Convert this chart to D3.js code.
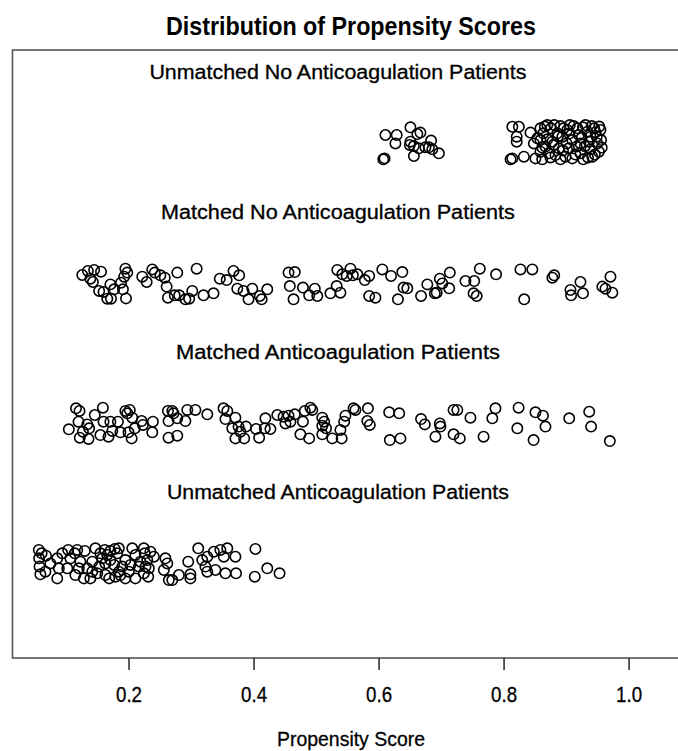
<!DOCTYPE html>
<html><head><meta charset="utf-8">
<script src="https://cdn.jsdelivr.net/npm/d3@7"></script>
<style>html,body{margin:0;padding:0;background:#fff;}svg{display:block;}</style>
</head><body>
<script>
// ---- DATA: [propensity score, vertical jitter] ----
const rowLabels = ["Unmatched No Anticoagulation Patients","Matched No Anticoagulation Patients","Matched Anticoagulation Patients","Unmatched Anticoagulation Patients"];
const rowValues = [4, 3, 2, 1];
const xTicks = [0.2, 0.4, 0.6, 0.8, 1.0];
const xTickLabels = ["0.2","0.4","0.6","0.8","1.0"];
const titleText = "Distribution of Propensity Scores";
const xAxisTitle = "Propensity Score";

const unmatchedNoAnticoag = [[0.6075,-0.124],[0.6096,-0.117],[0.611,0.05],[0.629,0.05],[0.627,-0.010],[0.651,0.105],[0.667,0.067],[0.662,0.057],[0.651,0.002],[0.650,-0.021],[0.6565,-0.029],[0.6645,-0.045],[0.675,-0.038],[0.684,0.010],[0.6805,-0.038],[0.686,-0.052],[0.6965,-0.081],[0.6565,-0.1],
[0.814,0.109],[0.8245,0.109],[0.821,0.038],[0.821,0.002],[0.8112,-0.124],[0.814,-0.117],[0.8325,-0.105],[0.843,0.067],[0.8485,-0.010],[0.851,-0.117],[0.859,0.098],[0.8635,0.062],[0.870,0.121],[0.876,0.098],[0.859,0.014],[0.867,-0.033],[0.859,-0.069],[0.8725,-0.081],[0.878,0.002],[0.886,0.062],[0.891,0.114],[0.894,0.038],[0.8885,-0.045],[0.891,-0.124],[0.883,-0.093],[0.902,0.086],[0.906,0.121],[0.910,0.014],[0.9045,-0.045],[0.910,-0.117],[0.918,0.098],[0.9205,0.05],[0.917,-0.033],[0.923,-0.081],[0.9275,-0.124],[0.931,0.121],[0.934,0.074],[0.9365,0.002],[0.939,-0.052],[0.942,-0.105],[0.945,0.098],[0.949,0.038],[0.950,-0.010],[0.9525,-0.069],[0.955,0.086],[0.956,0.014],[0.9008,-0.010],[0.870,0.019],[0.923,-0.010],[0.854,0.026],[0.899,-0.105],[0.8618,-0.124],[0.939,0.038],
[0.866,0.110],[0.881,0.121],[0.896,0.098],[0.912,0.114],[0.927,0.105],[0.941,0.114],[0.953,0.110],[0.880,-0.020],[0.895,-0.060],[0.915,-0.090],[0.930,-0.030],[0.946,-0.090],[0.957,-0.040],[0.875,-0.110],[0.905,0.060],[0.925,0.030],[0.947,0.070],[0.862,-0.040],[0.887,0.040],[0.935,-0.110]];

const matchedNoAnticoag = [[0.126,0.05],[0.135,0.079],[0.145,0.086],[0.139,0.024],[0.143,0.0],[0.156,0.074],[0.153,-0.064],[0.160,-0.071],[0.166,-0.119],[0.172,-0.119],[0.171,-0.017],[0.177,-0.052],[0.188,-0.005],[0.191,-0.052],[0.195,0.095],[0.198,0.067],[0.193,0.038],[0.196,-0.117],[0.222,0.038],[0.229,0.0],[0.238,0.09],[0.242,0.067],[0.251,0.048],[0.258,0.031],[0.261,-0.033],[0.278,0.067],[0.263,-0.112],[0.274,-0.095],[0.281,-0.095],[0.291,-0.124],[0.297,-0.119],[0.302,-0.064],[0.309,0.095],[0.320,-0.095],[0.336,-0.081],[0.346,0.024],[0.357,0.014],[0.368,0.079],[0.377,0.048],[0.374,-0.048],[0.384,-0.064],[0.398,-0.048],[0.392,-0.124],[0.410,-0.1],[0.413,-0.124],[0.422,-0.052],[0.456,0.067],[0.466,0.071],[0.458,-0.029],[0.464,-0.124],[0.479,-0.040],[0.489,-0.095],[0.498,-0.048],[0.502,-0.1],[0.523,-0.081],[0.533,-0.029],[0.539,-0.076],[0.534,0.086],[0.542,0.055],[0.555,0.095],[0.559,0.048],[0.549,0.043],[0.566,0.055],
[0.578,0.014],[0.585,0.043],[0.606,0.09],[0.620,0.043],[0.638,0.071],[0.585,-0.1],[0.595,-0.112],[0.631,-0.124],[0.640,-0.040],[0.646,-0.045],[0.668,-0.1],[0.678,-0.017],[0.690,-0.081],[0.693,-0.076],[0.698,0.024],[0.702,-0.010],[0.714,0.067],[0.713,-0.045],[0.739,0.007],[0.753,0.007],[0.762,0.095],[0.752,-0.081],[0.757,-0.1],[0.788,0.055],[0.827,0.09],[0.846,0.09],[0.833,-0.124],[0.881,0.048],[0.878,0.031],[0.923,0],[0.907,-0.057],[0.908,-0.095],[0.927,-0.081],[0.958,-0.033],[0.963,-0.048],[0.971,0.038],[0.974,-0.076]];

const matchedAnticoag = [[0.1045,-0.052],[0.116,0.098],[0.1216,0.079],[0.120,0.002],[0.134,-0.017],[0.137,-0.045],[0.122,-0.112],[0.136,-0.121],[0.127,-0.069],[0.146,0.05],[0.159,0.102],[0.155,-0.093],[0.168,-0.105],[0.160,0.002],[0.171,0.002],[0.183,0.002],[0.174,-0.064],[0.187,-0.074],[0.195,0.079],[0.198,0.062],[0.202,0.086],[0.206,0.031],[0.210,-0.045],[0.205,-0.117],[0.200,-0.074],[0.221,0.007],[0.223,-0.021],[0.239,0.002],[0.238,-0.074],[0.263,0.079],[0.270,0.079],[0.272,0.062],[0.264,0.007],[0.278,0.026],[0.291,0.007],[0.294,0.086],[0.307,0.086],[0.326,0.055],[0.264,-0.112],[0.278,-0.098],[0.352,0.098],[0.358,0.079],[0.355,0.021],[0.371,0.031],[0.366,-0.045],[0.376,-0.033],[0.388,-0.033],[0.371,-0.117],[0.385,-0.117],[0.379,-0.069],[0.404,-0.05],[0.409,-0.112],[0.419,0.026],[0.418,-0.045],[0.427,-0.05],[0.438,0.05],[0.448,0.038],[0.456,0.045],[0.466,0.055],[0.451,-0.010],[0.459,0.002],[0.479,0.002],[0.482,0.079],[0.491,0.102],[0.494,0.086],[0.475,-0.088],[0.489,-0.117],[0.510,0.031],[0.513,0.002],[0.510,-0.026],[0.516,-0.045],[0.510,-0.088],[0.526,-0.117],[0.541,-0.117],[0.539,-0.057],[0.545,0.002],[0.547,0.045],[0.560,0.098],
[0.563,0.086],[0.583,0.098],[0.582,0.007],[0.586,-0.021],[0.617,0.069],[0.633,0.062],[0.618,-0.129],[0.635,-0.117],[0.668,0.021],[0.674,-0.017],[0.698,-0.010],[0.699,-0.033],[0.691,-0.105],[0.720,0.086],[0.726,0.086],[0.720,-0.088],[0.730,-0.117],[0.747,0.031],[0.768,-0.105],[0.782,0.026],[0.787,0.098],[0.824,0.102],[0.822,-0.045],[0.851,0.069],[0.863,0.045],[0.867,-0.033],[0.848,-0.129],[0.905,0.026],[0.937,0.074],[0.940,-0.033],[0.970,-0.136]];

const unmatchedAnticoag = [[0.0565,0.086],[0.061,0.062],[0.057,0.026],[0.0576,-0.033],[0.059,-0.088],[0.068,0.045],[0.075,-0.010],[0.086,0.026],[0.0885,-0.045],[0.086,-0.117],[0.094,0.062],[0.1035,0.086],[0.102,-0.045],[0.107,0.026],[0.114,0.062],[0.118,0.086],[0.123,0.002],[0.1205,-0.045],[0.115,-0.093],[0.130,0.079],[0.134,-0.045],[0.1285,-0.117],[0.139,-0.117],[0.147,0.098],[0.155,0.062],[0.162,0.086],[0.166,0.05],[0.171,0.079],[0.178,0.093],[0.182,0.062],[0.1845,0.098],[0.158,0.026],[0.163,-0.010],[0.171,0.014],[0.177,-0.021],[0.153,-0.033],[0.150,-0.081],[0.163,-0.093],[0.169,-0.117],[0.179,-0.105],[0.187,-0.093],[0.190,-0.033],[0.195,0.014],[0.2005,-0.069],[0.195,-0.117],[0.206,0.098],[0.211,0.05],[0.2165,-0.033],[0.211,-0.117],[0.2245,0.098],[0.226,0.062],[0.230,0.014],[0.2272,-0.033],[0.2325,-0.045],[0.2245,-0.081],[0.2315,-0.105],[0.235,0.074],[0.2405,0.038],[0.259,0.026],[0.262,-0.010],[0.2565,-0.057],[0.2645,-0.129],[0.270,-0.129],[0.2805,-0.093],[0.2955,0.002],[0.299,-0.088],[0.299,-0.117],[0.3115,0.098],[0.318,0.014],[0.326,0.038],[0.323,-0.033],[0.326,-0.069],[0.3365,0.074],[0.347,0.086],[0.3525,0.038],[0.358,0.098],[0.339,-0.057],[0.355,-0.081],[0.371,0.038],[0.372,-0.081],[0.403,0.093],[0.402,-0.105],[0.422,-0.045],[0.4416,-0.081],
[0.142,0.002],[0.203,-0.021],[0.219,0.002],[0.1845,-0.069],[0.142,-0.069],[0.067,-0.069]];

const groups = [unmatchedNoAnticoag, matchedNoAnticoag, matchedAnticoag, unmatchedAnticoag];

// ---- LAYOUT ----
const W = 678, H = 751;
const svg = d3.select("body").append("svg").attr("width", W).attr("height", H);
svg.append("rect").attr("width", W).attr("height", H).attr("fill", "#fff");

const x = d3.scaleLinear().domain([0, 1]).range([3.5, 628.6]);
const y = d3.scaleLinear().domain([1, 4]).range([562, 142]);
const box = {left: 12.5, right: 700, top: 50, bottom: 658};
const font = "'Liberation Sans', Arial, Helvetica, sans-serif";

svg.append("text").attr("x", 351).attr("y", 35).attr("text-anchor", "middle")
  .attr("font-family", font).attr("font-weight", "bold").attr("font-size", 25)
  .attr("textLength", 370).attr("lengthAdjust", "spacingAndGlyphs")
  .attr("fill", "#000").text(titleText);

svg.append("rect").attr("x", box.left).attr("y", box.top)
  .attr("width", box.right - box.left).attr("height", box.bottom - box.top)
  .attr("fill", "none").attr("stroke", "#555").attr("stroke-width", 1.6);

const labelWidths = [377, 354, 324, 342];
svg.selectAll("text.rowlab").data(rowLabels).enter().append("text")
  .attr("class", "rowlab")
  .attr("x", x(0.535)).attr("y", (d, i) => y(rowValues[i] + 0.5) + 6.5)
  .attr("text-anchor", "middle").attr("font-family", font).attr("font-size", 19.5)
  .attr("textLength", (d, i) => labelWidths[i]).attr("lengthAdjust", "spacingAndGlyphs")
  .attr("fill", "#000").attr("stroke", "#000").attr("stroke-width", 0.3).text(d => d);

groups.forEach((g, i) => {
  svg.append("g").selectAll("circle").data(g).enter().append("circle")
    .attr("cx", d => x(d[0])).attr("cy", d => y(rowValues[i] + d[1]))
    .attr("r", 5.2).attr("fill", "none").attr("stroke", "#000").attr("stroke-width", 1.6);
});

// x axis
const axis = d3.axisBottom(x).tickValues(xTicks).tickSize(12).tickFormat((d, i) => xTickLabels[i]);
const ag = svg.append("g").attr("transform", `translate(0,${box.bottom})`).call(axis);
ag.select(".domain").remove();
ag.selectAll(".tick line").attr("stroke", "#333").attr("stroke-width", 1.6);
ag.selectAll(".tick text").attr("font-family", font).attr("font-size", 22).attr("fill", "#000")
  .attr("stroke", "#000").attr("stroke-width", 0.3)
  .attr("dy", 0).attr("y", 44).attr("textLength", 26).attr("lengthAdjust", "spacingAndGlyphs");

svg.append("text").attr("x", 351).attr("y", 746).attr("text-anchor", "middle")
  .attr("font-family", font).attr("font-size", 21).attr("fill", "#000")
  .attr("stroke", "#000").attr("stroke-width", 0.3)
  .attr("textLength", 148).attr("lengthAdjust", "spacingAndGlyphs").text(xAxisTitle);
</script>
</body></html>
